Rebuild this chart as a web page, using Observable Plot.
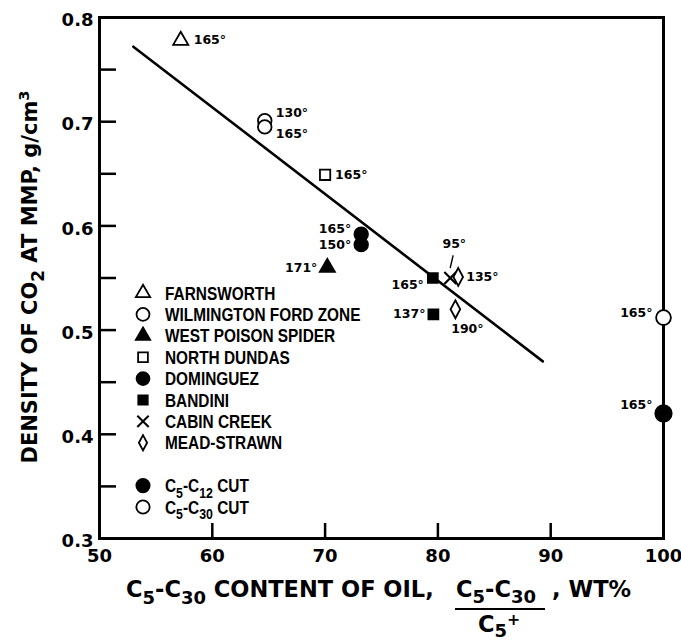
<!DOCTYPE html>
<html>
<head>
<meta charset="utf-8">
<script src="https://cdn.jsdelivr.net/npm/d3@7"></script>
<script src="https://cdn.jsdelivr.net/npm/@observablehq/plot@0.6"></script>
<style>
  html, body { margin: 0; padding: 0; background: #fff; }
  svg { display: block; }
</style>
</head>
<body>
<div id="chart"></div>
<script>
// ---------------- data ----------------
const fields = ["FARNSWORTH", "WILMINGTON FORD ZONE", "WILMINGTON FORD ZONE", "NORTH DUNDAS",
  "DOMINGUEZ", "DOMINGUEZ", "WEST POISON SPIDER", "BANDINI", "BANDINI",
  "CABIN CREEK", "MEAD-STRAWN", "MEAD-STRAWN", "C5-C30 CUT", "C5-C12 CUT"];
const c5c30Content = [57.2, 64.65, 64.65, 70.0, 73.2, 73.2, 70.2, 79.55, 79.6, 81.1, 81.8, 81.55, 100, 100];
const co2Density = [0.778, 0.701, 0.695, 0.649, 0.592, 0.582, 0.560, 0.550, 0.515, 0.550, 0.551, 0.520, 0.512, 0.420];
const temperatures = [165, 130, 165, 165, 165, 150, 171, 165, 137, 95, 135, 190, 165, 165];

const trendX = [53.0, 89.3];
const trendY = [0.772, 0.470];

const xTickLabels = [50, 60, 70, 80, 90, 100];
const yTickLabels = [0.3, 0.4, 0.5, 0.6, 0.7, 0.8];
const xTickMarks = [60, 70, 80, 90];
const yTickMarks = [0.35, 0.4, 0.45, 0.5, 0.55, 0.6, 0.65, 0.7, 0.75];

const legendFields = ["FARNSWORTH", "WILMINGTON FORD ZONE", "WEST POISON SPIDER", "NORTH DUNDAS",
  "DOMINGUEZ", "BANDINI", "CABIN CREEK", "MEAD-STRAWN", "C5-C12 CUT", "C5-C30 CUT"];

// ---------------- styles ----------------
const tallDiamond = {
  draw(ctx, size) {
    const r = Math.sqrt(size / Math.PI);
    ctx.moveTo(0, -1.15 * r);
    ctx.lineTo(0.62 * r, 0);
    ctx.lineTo(0, 1.15 * r);
    ctx.lineTo(-0.62 * r, 0);
    ctx.closePath();
  }
};
const symbolStyle = {
  "FARNSWORTH": {symbol: "triangle", r: 5.6, filled: false},
  "WILMINGTON FORD ZONE": {symbol: "circle", r: 6.8, filled: false},
  "WEST POISON SPIDER": {symbol: "triangle", r: 5.6, filled: true},
  "NORTH DUNDAS": {symbol: "square", r: 5.8, filled: false},
  "DOMINGUEZ": {symbol: "circle", r: 6.8, filled: true},
  "BANDINI": {symbol: "square", r: 5.6, filled: true},
  "CABIN CREEK": {symbol: "times", r: 5.5, filled: false},
  "MEAD-STRAWN": {symbol: tallDiamond, r: 7.8, filled: false},
  "C5-C12 CUT": {symbol: "circle", r: 8.2, filled: true},
  "C5-C30 CUT": {symbol: "circle", r: 7.4, filled: false}
};
// label placement per point: [textAnchor, dx, dy]
const labelPlace = [
  ["start", 13, 0], ["start", 11, -8], ["start", 11, 7], ["start", 10, 0],
  ["end", -10, -5], ["end", -10, 0], ["end", -10, 0], ["end", -9, 7], ["end", -8, 0],
  ["middle", 4, -34], ["start", 8, 0], ["middle", 12, 20], ["end", -11, -5], ["end", -11, -8]
];

const points = fields.map((f, i) => ({field: f, x: c5c30Content[i], y: co2Density[i], t: temperatures[i]}));
const trend = trendX.map((x, i) => ({x, y: trendY[i]}));

const W = 681, H = 644;
const mL = 99, mR = 18, mT = 17, mB = 106;
const plotW = W - mL - mR, plotH = H - mT - mB;

const TICKFONT = "'DejaVu Sans', sans-serif";
const PTFONT = "'DejaVu Sans', sans-serif";
const TITLEFONT = "'DejaVu Sans', sans-serif";
const LEGFONT = "'Liberation Sans', Arial, sans-serif";

const dotMarks = Object.keys(symbolStyle).map(f => {
  const s = symbolStyle[f];
  return Plot.dot(points.filter(d => d.field === f), {
    x: "x", y: "y", symbol: s.symbol, r: s.r,
    fill: s.filled ? "black" : "white", stroke: "black",
    strokeWidth: f === "CABIN CREEK" ? 2.2 : 1.8
  });
});

const labelMarks = points.map((p, i) => Plot.text([p], {
  x: "x", y: "y", text: d => d.t + "°",
  textAnchor: labelPlace[i][0], dx: labelPlace[i][1], dy: labelPlace[i][2],
  fontFamily: PTFONT, fontWeight: "bold", fontSize: 12.5, fill: "black"
}));

const leaderShape = {draw(ctx, l) { ctx.moveTo(0, 0); ctx.lineTo(0, -l); }};

const chart = Plot.plot({
  width: W, height: H,
  marginLeft: mL, marginRight: mR, marginTop: mT, marginBottom: mB,
  x: {domain: [50, 100]},
  y: {domain: [0.3, 0.8]},
  style: {background: "white", color: "black"},
  marks: [
    Plot.axisX({ticks: xTickLabels, tickSize: 0, tickPadding: 11, label: null,
      fontFamily: TICKFONT, fontWeight: "bold", fontSize: 18, tickFormat: d => String(d)}),
    Plot.axisY({ticks: yTickLabels, tickSize: 0, tickPadding: 6, label: null, dy: 3,
      fontFamily: TICKFONT, fontWeight: "bold", fontSize: 18, tickFormat: d => d.toFixed(1)}),
    Plot.tickY(yTickMarks, {y: d => d, insetRight: plotW - 17, strokeWidth: 2.5}),
    Plot.tickX(xTickMarks, {x: d => d, insetTop: plotH - 15, strokeWidth: 2.5}),
    Plot.frame({strokeWidth: 3}),
    Plot.line(trend, {x: "x", y: "y", strokeWidth: 2.6, stroke: "black"}),
    Plot.vector(points.filter(d => d.field === "CABIN CREEK"), {
      x: "x", y: "y", length: 12, rotate: 13, anchor: "start", dy: -10.5,
      shape: leaderShape, strokeWidth: 1.4, stroke: "black"
    }),
    ...dotMarks,
    ...labelMarks
  ]
});

document.getElementById("chart").appendChild(chart);

// ---------------- titles & legend ----------------
const svg = d3.select(chart);

function addRuns(textSel, runs, baseSize, subK = 0.33, supK = 0.4) {
  let shift = 0;
  runs.forEach(([s, kind]) => {
    const ts = textSel.append("tspan").text(s);
    let target = 0, size = baseSize;
    if (kind === "sub") { target = baseSize * subK; size = baseSize * 0.8; }
    if (kind === "sup") { target = -baseSize * supK; size = baseSize * 0.7; }
    ts.attr("dy", target - shift).attr("font-size", size);
    shift = target;
  });
}
function titleText(parent, x, y, anchor, size, family) {
  return parent.append("text").attr("x", x).attr("y", y)
    .attr("text-anchor", anchor)
    .attr("font-family", family).attr("font-weight", "bold")
    .attr("font-size", size).attr("fill", "black");
}

// Y-axis title
const yt = svg.append("text")
  .attr("transform", "translate(37,277) rotate(-90)")
  .attr("text-anchor", "middle")
  .attr("font-family", TITLEFONT).attr("font-weight", "bold").attr("font-size", 21).attr("fill", "black");
addRuns(yt, [["DENSITY OF CO"], ["2", "sub"], [" AT MMP, g/cm"], ["3", "sup"]], 21);

// X-axis title
const TS = 22.5;
const xt = titleText(svg, 126, 597, "start", TS, TITLEFONT);
addRuns(xt, [["C"], ["5", "sub"], ["-C"], ["30", "sub"], [" CONTENT OF OIL,"]], TS);

const num = titleText(svg, 456, 597, "start", TS, TITLEFONT);
addRuns(num, [["C"], ["5", "sub"], ["-C"], ["30", "sub"]], TS, 0.25);
svg.append("line").attr("x1", 455).attr("x2", 545).attr("y1", 609).attr("y2", 609)
  .attr("stroke", "black").attr("stroke-width", 2);
const den = titleText(svg, 499, 632, "middle", TS, TITLEFONT);
addRuns(den, [["C"], ["5", "sub"], ["+", "sup"]], TS, 0.22, 0.3);
titleText(svg, 552, 597, "start", TS, TITLEFONT).text(", WT%");

// Legend
const legX = 143, legTextX = 165, legY0 = 293, legStep = 21.4;
legendFields.forEach((f, i) => {
  const row = i < 8 ? i : i + 1;
  const y = legY0 + row * legStep;
  const s = symbolStyle[f];
  const lr = Math.min(s.r, 7) * 0.95;
  const d3sym = typeof s.symbol === "string"
    ? {circle: d3.symbolCircle, triangle: d3.symbolTriangle, square: d3.symbolSquare, times: d3.symbolTimes}[s.symbol]
    : s.symbol;
  svg.append("path")
    .attr("transform", `translate(${legX},${y})`)
    .attr("d", d3.symbol(d3sym, Math.PI * lr * lr)())
    .attr("fill", s.filled ? "black" : "white").attr("stroke", "black")
    .attr("stroke-width", f === "CABIN CREEK" ? 2 : 1.8);
  const g = svg.append("g").attr("transform", `translate(${legTextX},${y + 6.5}) scale(0.88,1)`);
  const t = titleText(g, 0, 0, "start", 17.5, LEGFONT);
  if (f === "C5-C12 CUT") addRuns(t, [["C"], ["5", "sub"], ["-C"], ["12", "sub"], [" CUT"]], 17.5);
  else if (f === "C5-C30 CUT") addRuns(t, [["C"], ["5", "sub"], ["-C"], ["30", "sub"], [" CUT"]], 17.5);
  else t.text(f);
});
</script>
</body>
</html>
